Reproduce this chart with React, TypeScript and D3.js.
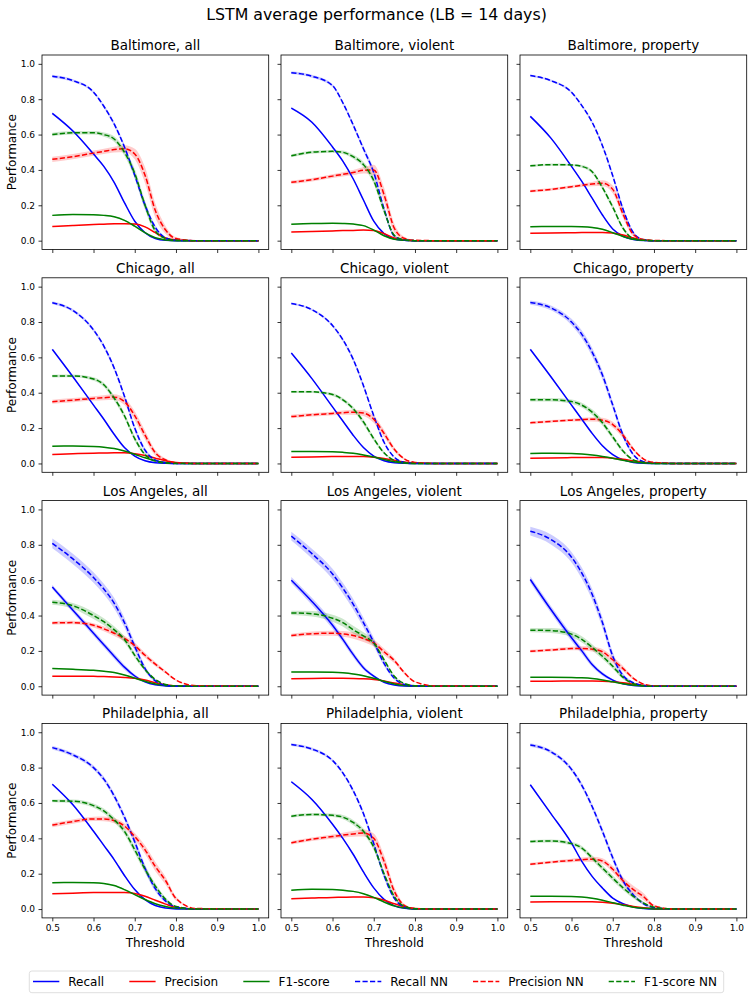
import { useEffect, useRef } from 'react';
import * as d3 from 'd3';

const WIDTH = 753;
const HEIGHT = 999;
const FONT = '"DejaVu Sans", sans-serif';

const THRESHOLDS = [0.5, 0.55, 0.6, 0.625, 0.65, 0.675, 0.7, 0.725, 0.75, 0.775, 0.8, 0.85, 1.0];
const CITIES = ['Baltimore', 'Chicago', 'Los Angeles', 'Philadelphia'];
const CRIMES = ['all', 'violent', 'property'];
const X_TICKS = [0.5, 0.6, 0.7, 0.8, 0.9, 1.0];
const Y_TICKS = [0, 0.2, 0.4, 0.6, 0.8, 1.0];

// One row per panel, reading order: Baltimore all/violent/property, Chicago ..., Los Angeles ..., Philadelphia ...
const recall = [
  [0.72, 0.62, 0.49, 0.42, 0.33, 0.215, 0.11, 0.045, 0.012, 0.002, 0, 0, 0],
  [0.75, 0.67, 0.53, 0.45, 0.35, 0.23, 0.11, 0.04, 0.009, 0.002, 0, 0, 0],
  [0.703, 0.58, 0.42, 0.335, 0.24, 0.145, 0.066, 0.025, 0.007, 0.001, 0, 0, 0],
  [0.645, 0.49, 0.33, 0.25, 0.165, 0.09, 0.042, 0.015, 0.004, 0.001, 0, 0, 0],
  [0.625, 0.48, 0.32, 0.24, 0.16, 0.09, 0.042, 0.015, 0.004, 0.001, 0, 0, 0],
  [0.645, 0.49, 0.33, 0.25, 0.17, 0.1, 0.05, 0.02, 0.006, 0.001, 0, 0, 0],
  [0.562, 0.43, 0.3, 0.235, 0.17, 0.108, 0.058, 0.025, 0.008, 0.002, 0, 0, 0],
  [0.6, 0.48, 0.345, 0.265, 0.18, 0.105, 0.057, 0.023, 0.007, 0.001, 0, 0, 0],
  [0.604, 0.434, 0.274, 0.2, 0.123, 0.07, 0.035, 0.014, 0.004, 0.001, 0, 0, 0],
  [0.706, 0.59, 0.44, 0.36, 0.28, 0.19, 0.11, 0.053, 0.02, 0.006, 0.001, 0, 0],
  [0.72, 0.62, 0.48, 0.4, 0.31, 0.21, 0.12, 0.055, 0.018, 0.004, 0, 0, 0],
  [0.703, 0.54, 0.373, 0.27, 0.185, 0.119, 0.062, 0.03, 0.011, 0.003, 0, 0, 0],
];
const recallSd = [
  [0.006, 0.006, 0.006, 0.006, 0.006, 0.006, 0.005, 0.004, 0.002, 0.001, 0, 0, 0],
  [0.006, 0.006, 0.006, 0.006, 0.006, 0.005, 0.004, 0.003, 0.001, 0, 0, 0, 0],
  [0.005, 0.005, 0.005, 0.005, 0.005, 0.004, 0.003, 0.002, 0.001, 0, 0, 0, 0],
  [0.005, 0.005, 0.005, 0.005, 0.005, 0.004, 0.003, 0.002, 0.001, 0, 0, 0, 0],
  [0.004, 0.004, 0.004, 0.004, 0.004, 0.003, 0.002, 0.002, 0.001, 0, 0, 0, 0],
  [0.006, 0.006, 0.006, 0.006, 0.006, 0.005, 0.004, 0.003, 0.001, 0, 0, 0, 0],
  [0.012, 0.014, 0.016, 0.016, 0.016, 0.014, 0.01, 0.006, 0.003, 0.001, 0, 0, 0],
  [0.018, 0.02, 0.02, 0.018, 0.016, 0.012, 0.008, 0.004, 0.002, 0, 0, 0, 0],
  [0.018, 0.02, 0.02, 0.018, 0.014, 0.01, 0.006, 0.003, 0.001, 0, 0, 0, 0],
  [0.006, 0.006, 0.006, 0.006, 0.006, 0.006, 0.005, 0.004, 0.002, 0.001, 0, 0, 0],
  [0.005, 0.005, 0.005, 0.005, 0.005, 0.005, 0.004, 0.003, 0.002, 0, 0, 0, 0],
  [0.005, 0.005, 0.005, 0.005, 0.005, 0.005, 0.004, 0.003, 0.002, 0, 0, 0, 0],
];

const precision = [
  [0.08, 0.086, 0.091, 0.093, 0.095, 0.096, 0.094, 0.078, 0.045, 0.015, 0.004, 0, 0],
  [0.049, 0.052, 0.055, 0.057, 0.058, 0.06, 0.058, 0.04, 0.015, 0.004, 0, 0, 0],
  [0.042, 0.043, 0.045, 0.046, 0.046, 0.046, 0.043, 0.032, 0.015, 0.004, 0, 0, 0],
  [0.051, 0.055, 0.058, 0.059, 0.06, 0.06, 0.055, 0.045, 0.03, 0.015, 0.005, 0, 0],
  [0.035, 0.037, 0.039, 0.04, 0.04, 0.039, 0.035, 0.028, 0.018, 0.008, 0.002, 0, 0],
  [0.03, 0.031, 0.033, 0.034, 0.034, 0.033, 0.03, 0.024, 0.015, 0.007, 0.002, 0, 0],
  [0.057, 0.057, 0.056, 0.055, 0.053, 0.05, 0.045, 0.035, 0.02, 0.008, 0.002, 0, 0],
  [0.043, 0.044, 0.045, 0.045, 0.044, 0.042, 0.038, 0.03, 0.018, 0.008, 0.002, 0, 0],
  [0.028, 0.029, 0.03, 0.03, 0.03, 0.029, 0.026, 0.02, 0.012, 0.005, 0.001, 0, 0],
  [0.087, 0.09, 0.093, 0.094, 0.094, 0.093, 0.088, 0.072, 0.05, 0.028, 0.01, 0.001, 0],
  [0.058, 0.062, 0.066, 0.067, 0.068, 0.068, 0.064, 0.05, 0.03, 0.012, 0.003, 0, 0],
  [0.04, 0.041, 0.042, 0.042, 0.041, 0.038, 0.033, 0.025, 0.015, 0.007, 0.002, 0, 0],
];
const precisionSd = [
  [0.002, 0.002, 0.002, 0.002, 0.002, 0.002, 0.003, 0.004, 0.004, 0.002, 0.001, 0, 0],
  [0.002, 0.002, 0.002, 0.002, 0.002, 0.002, 0.003, 0.003, 0.002, 0.001, 0, 0, 0],
  [0.002, 0.002, 0.002, 0.002, 0.002, 0.002, 0.002, 0.002, 0.001, 0, 0, 0, 0],
  [0.002, 0.002, 0.002, 0.002, 0.002, 0.002, 0.002, 0.002, 0.002, 0.001, 0, 0, 0],
  [0.002, 0.002, 0.002, 0.002, 0.002, 0.002, 0.002, 0.002, 0.001, 0, 0, 0, 0],
  [0.001, 0.001, 0.001, 0.001, 0.001, 0.001, 0.001, 0.001, 0.001, 0, 0, 0, 0],
  [0.002, 0.002, 0.002, 0.002, 0.002, 0.002, 0.002, 0.002, 0.002, 0.001, 0, 0, 0],
  [0.002, 0.002, 0.002, 0.002, 0.002, 0.002, 0.002, 0.002, 0.001, 0.001, 0, 0, 0],
  [0.001, 0.001, 0.001, 0.001, 0.001, 0.001, 0.001, 0.001, 0.001, 0, 0, 0, 0],
  [0.002, 0.002, 0.002, 0.002, 0.002, 0.002, 0.002, 0.002, 0.002, 0.001, 0, 0, 0],
  [0.002, 0.002, 0.002, 0.002, 0.002, 0.002, 0.002, 0.002, 0.002, 0.001, 0, 0, 0],
  [0.002, 0.002, 0.002, 0.002, 0.002, 0.002, 0.002, 0.002, 0.001, 0.001, 0, 0, 0],
];

const f1 = [
  [0.143, 0.148, 0.147, 0.143, 0.135, 0.115, 0.082, 0.045, 0.016, 0.004, 0, 0, 0],
  [0.093, 0.097, 0.098, 0.097, 0.094, 0.085, 0.06, 0.028, 0.008, 0.002, 0, 0, 0],
  [0.079, 0.08, 0.08, 0.079, 0.075, 0.064, 0.045, 0.024, 0.008, 0.002, 0, 0, 0],
  [0.098, 0.099, 0.096, 0.092, 0.084, 0.07, 0.052, 0.032, 0.016, 0.006, 0.001, 0, 0],
  [0.067, 0.068, 0.066, 0.063, 0.058, 0.048, 0.036, 0.022, 0.01, 0.003, 0, 0, 0],
  [0.057, 0.058, 0.056, 0.053, 0.048, 0.04, 0.03, 0.018, 0.008, 0.003, 0, 0, 0],
  [0.1, 0.096, 0.09, 0.085, 0.078, 0.064, 0.046, 0.028, 0.013, 0.004, 0.001, 0, 0],
  [0.081, 0.081, 0.079, 0.076, 0.07, 0.06, 0.045, 0.028, 0.013, 0.004, 0.001, 0, 0],
  [0.051, 0.051, 0.05, 0.048, 0.044, 0.036, 0.025, 0.014, 0.006, 0.002, 0, 0, 0],
  [0.149, 0.15, 0.149, 0.145, 0.133, 0.11, 0.082, 0.054, 0.03, 0.014, 0.004, 0, 0],
  [0.107, 0.112, 0.111, 0.107, 0.1, 0.087, 0.066, 0.04, 0.018, 0.006, 0.001, 0, 0],
  [0.072, 0.072, 0.071, 0.068, 0.061, 0.05, 0.036, 0.022, 0.01, 0.004, 0.001, 0, 0],
];
const f1Sd = [
  [0.003, 0.003, 0.003, 0.003, 0.003, 0.004, 0.005, 0.005, 0.003, 0.001, 0, 0, 0],
  [0.003, 0.003, 0.003, 0.003, 0.003, 0.004, 0.004, 0.003, 0.002, 0, 0, 0, 0],
  [0.003, 0.003, 0.003, 0.003, 0.003, 0.003, 0.003, 0.002, 0.001, 0, 0, 0, 0],
  [0.002, 0.002, 0.002, 0.002, 0.002, 0.002, 0.002, 0.002, 0.001, 0.001, 0, 0, 0],
  [0.002, 0.002, 0.002, 0.002, 0.002, 0.002, 0.002, 0.002, 0.001, 0, 0, 0, 0],
  [0.002, 0.002, 0.002, 0.002, 0.002, 0.002, 0.002, 0.001, 0.001, 0, 0, 0, 0],
  [0.003, 0.003, 0.003, 0.003, 0.003, 0.003, 0.003, 0.002, 0.001, 0, 0, 0, 0],
  [0.003, 0.003, 0.003, 0.003, 0.003, 0.003, 0.003, 0.002, 0.001, 0, 0, 0, 0],
  [0.002, 0.002, 0.002, 0.002, 0.002, 0.002, 0.002, 0.001, 0.001, 0, 0, 0, 0],
  [0.003, 0.003, 0.003, 0.003, 0.003, 0.003, 0.003, 0.003, 0.002, 0.001, 0, 0, 0],
  [0.003, 0.003, 0.003, 0.003, 0.003, 0.003, 0.003, 0.003, 0.002, 0.001, 0, 0, 0],
  [0.002, 0.002, 0.002, 0.002, 0.002, 0.002, 0.002, 0.002, 0.001, 0.001, 0, 0, 0],
];

const recallNN = [
  [0.93, 0.905, 0.84, 0.76, 0.66, 0.53, 0.37, 0.2, 0.075, 0.015, 0.002, 0, 0],
  [0.95, 0.93, 0.877, 0.78, 0.655, 0.52, 0.385, 0.18, 0.025, 0.003, 0, 0, 0],
  [0.934, 0.905, 0.839, 0.764, 0.67, 0.537, 0.367, 0.178, 0.045, 0.005, 0, 0, 0],
  [0.909, 0.865, 0.755, 0.664, 0.54, 0.38, 0.2, 0.075, 0.019, 0.004, 0, 0, 0],
  [0.905, 0.87, 0.78, 0.7, 0.59, 0.44, 0.27, 0.12, 0.035, 0.006, 0.001, 0, 0],
  [0.91, 0.88, 0.8, 0.73, 0.63, 0.5, 0.33, 0.16, 0.05, 0.01, 0.002, 0, 0],
  [0.808, 0.72, 0.615, 0.55, 0.47, 0.36, 0.225, 0.1, 0.03, 0.005, 0, 0, 0],
  [0.849, 0.75, 0.635, 0.555, 0.465, 0.36, 0.25, 0.13, 0.045, 0.01, 0.002, 0, 0],
  [0.877, 0.83, 0.73, 0.64, 0.52, 0.36, 0.17, 0.06, 0.02, 0.004, 0, 0, 0],
  [0.913, 0.872, 0.8, 0.735, 0.64, 0.52, 0.38, 0.23, 0.115, 0.045, 0.012, 0, 0],
  [0.93, 0.905, 0.84, 0.77, 0.67, 0.54, 0.37, 0.19, 0.06, 0.012, 0.002, 0, 0],
  [0.928, 0.89, 0.79, 0.7, 0.58, 0.44, 0.29, 0.16, 0.08, 0.03, 0.008, 0, 0],
];
const recallNNSd = [
  [0.008, 0.008, 0.008, 0.01, 0.012, 0.015, 0.02, 0.02, 0.012, 0.004, 0.001, 0, 0],
  [0.008, 0.008, 0.008, 0.01, 0.012, 0.015, 0.02, 0.018, 0.006, 0.001, 0, 0, 0],
  [0.006, 0.006, 0.007, 0.008, 0.01, 0.012, 0.015, 0.015, 0.008, 0.002, 0, 0, 0],
  [0.008, 0.008, 0.01, 0.012, 0.014, 0.016, 0.016, 0.012, 0.005, 0.001, 0, 0, 0],
  [0.006, 0.006, 0.008, 0.01, 0.012, 0.014, 0.014, 0.01, 0.004, 0.001, 0, 0, 0],
  [0.012, 0.014, 0.018, 0.022, 0.025, 0.025, 0.022, 0.016, 0.008, 0.002, 0, 0, 0],
  [0.028, 0.03, 0.03, 0.03, 0.03, 0.028, 0.024, 0.016, 0.006, 0.002, 0, 0, 0],
  [0.025, 0.028, 0.03, 0.03, 0.03, 0.028, 0.024, 0.016, 0.008, 0.002, 0, 0, 0],
  [0.025, 0.028, 0.03, 0.032, 0.032, 0.03, 0.024, 0.014, 0.006, 0.001, 0, 0, 0],
  [0.01, 0.01, 0.012, 0.014, 0.016, 0.018, 0.02, 0.02, 0.016, 0.01, 0.004, 0, 0],
  [0.008, 0.008, 0.008, 0.01, 0.012, 0.015, 0.018, 0.016, 0.008, 0.002, 0, 0, 0],
  [0.01, 0.01, 0.012, 0.014, 0.016, 0.018, 0.018, 0.016, 0.012, 0.008, 0.003, 0, 0],
];

const precisionNN = [
  [0.46, 0.475, 0.495, 0.505, 0.515, 0.52, 0.49, 0.37, 0.17, 0.06, 0.012, 0, 0],
  [0.33, 0.345, 0.365, 0.375, 0.385, 0.398, 0.4, 0.26, 0.07, 0.012, 0.002, 0, 0],
  [0.28, 0.29, 0.305, 0.313, 0.32, 0.325, 0.29, 0.15, 0.035, 0.006, 0.001, 0, 0],
  [0.349, 0.358, 0.368, 0.372, 0.375, 0.35, 0.27, 0.16, 0.06, 0.02, 0.005, 0, 0],
  [0.265, 0.275, 0.283, 0.287, 0.29, 0.285, 0.25, 0.17, 0.08, 0.025, 0.006, 0, 0],
  [0.23, 0.238, 0.245, 0.248, 0.25, 0.245, 0.22, 0.16, 0.08, 0.025, 0.006, 0, 0],
  [0.358, 0.36, 0.345, 0.325, 0.3, 0.27, 0.23, 0.175, 0.125, 0.08, 0.035, 0.003, 0],
  [0.287, 0.297, 0.3, 0.296, 0.287, 0.27, 0.245, 0.195, 0.145, 0.075, 0.025, 0.002, 0],
  [0.198, 0.205, 0.213, 0.214, 0.21, 0.195, 0.15, 0.1, 0.045, 0.012, 0.002, 0, 0],
  [0.475, 0.495, 0.51, 0.51, 0.5, 0.47, 0.41, 0.335, 0.24, 0.16, 0.06, 0.003, 0],
  [0.375, 0.395, 0.41, 0.418, 0.425, 0.43, 0.4, 0.27, 0.1, 0.02, 0.003, 0, 0],
  [0.254, 0.265, 0.275, 0.279, 0.282, 0.272, 0.225, 0.16, 0.11, 0.07, 0.018, 0, 0],
];
const precisionNNSd = [
  [0.015, 0.015, 0.015, 0.015, 0.016, 0.02, 0.03, 0.045, 0.04, 0.022, 0.008, 0, 0],
  [0.01, 0.01, 0.01, 0.012, 0.014, 0.018, 0.03, 0.04, 0.025, 0.008, 0.002, 0, 0],
  [0.008, 0.008, 0.008, 0.01, 0.012, 0.016, 0.022, 0.022, 0.012, 0.004, 0.001, 0, 0],
  [0.012, 0.012, 0.012, 0.014, 0.016, 0.02, 0.025, 0.025, 0.016, 0.008, 0.003, 0, 0],
  [0.01, 0.01, 0.01, 0.012, 0.014, 0.016, 0.02, 0.02, 0.012, 0.005, 0.002, 0, 0],
  [0.008, 0.008, 0.008, 0.01, 0.012, 0.014, 0.016, 0.016, 0.01, 0.004, 0.001, 0, 0],
  [0.01, 0.01, 0.012, 0.014, 0.016, 0.016, 0.016, 0.014, 0.012, 0.008, 0.004, 0, 0],
  [0.01, 0.012, 0.014, 0.016, 0.018, 0.02, 0.02, 0.018, 0.014, 0.008, 0.003, 0, 0],
  [0.008, 0.008, 0.01, 0.012, 0.014, 0.016, 0.018, 0.014, 0.008, 0.003, 0, 0, 0],
  [0.012, 0.012, 0.012, 0.014, 0.015, 0.016, 0.02, 0.024, 0.026, 0.022, 0.012, 0, 0],
  [0.01, 0.01, 0.012, 0.014, 0.016, 0.02, 0.028, 0.035, 0.025, 0.008, 0.002, 0, 0],
  [0.008, 0.008, 0.01, 0.012, 0.014, 0.016, 0.018, 0.02, 0.022, 0.02, 0.008, 0, 0],
];

const f1NN = [
  [0.6, 0.61, 0.61, 0.6, 0.575, 0.5, 0.38, 0.2, 0.055, 0.012, 0.002, 0, 0],
  [0.48, 0.5, 0.505, 0.5, 0.475, 0.43, 0.34, 0.17, 0.03, 0.004, 0, 0, 0],
  [0.423, 0.43, 0.428, 0.42, 0.39, 0.3, 0.19, 0.07, 0.012, 0.002, 0, 0, 0],
  [0.494, 0.495, 0.478, 0.445, 0.37, 0.27, 0.14, 0.05, 0.013, 0.003, 0, 0, 0],
  [0.405, 0.405, 0.39, 0.36, 0.31, 0.235, 0.14, 0.06, 0.017, 0.004, 0, 0, 0],
  [0.36, 0.36, 0.35, 0.33, 0.29, 0.23, 0.15, 0.07, 0.02, 0.005, 0, 0, 0],
  [0.475, 0.455, 0.4, 0.365, 0.32, 0.265, 0.175, 0.095, 0.038, 0.01, 0.002, 0, 0],
  [0.415, 0.41, 0.385, 0.36, 0.32, 0.285, 0.245, 0.15, 0.057, 0.015, 0.003, 0, 0],
  [0.317, 0.315, 0.295, 0.265, 0.22, 0.17, 0.113, 0.05, 0.015, 0.003, 0, 0, 0],
  [0.612, 0.61, 0.585, 0.555, 0.505, 0.44, 0.335, 0.225, 0.13, 0.055, 0.015, 0, 0],
  [0.525, 0.535, 0.53, 0.52, 0.49, 0.44, 0.35, 0.2, 0.07, 0.015, 0.002, 0, 0],
  [0.382, 0.385, 0.37, 0.345, 0.29, 0.232, 0.175, 0.12, 0.072, 0.034, 0.011, 0, 0],
];
const f1NNSd = [
  [0.01, 0.01, 0.01, 0.012, 0.015, 0.02, 0.025, 0.025, 0.015, 0.005, 0.001, 0, 0],
  [0.008, 0.008, 0.008, 0.01, 0.012, 0.016, 0.02, 0.018, 0.008, 0.002, 0, 0, 0],
  [0.006, 0.006, 0.006, 0.008, 0.01, 0.012, 0.014, 0.01, 0.005, 0.001, 0, 0, 0],
  [0.008, 0.008, 0.01, 0.012, 0.015, 0.016, 0.015, 0.01, 0.004, 0.001, 0, 0, 0],
  [0.006, 0.006, 0.008, 0.01, 0.012, 0.014, 0.012, 0.008, 0.003, 0.001, 0, 0, 0],
  [0.01, 0.01, 0.012, 0.014, 0.016, 0.016, 0.014, 0.01, 0.004, 0.001, 0, 0, 0],
  [0.014, 0.016, 0.02, 0.02, 0.02, 0.018, 0.015, 0.01, 0.005, 0.002, 0, 0, 0],
  [0.012, 0.016, 0.02, 0.022, 0.022, 0.02, 0.016, 0.01, 0.005, 0.001, 0, 0, 0],
  [0.012, 0.014, 0.016, 0.018, 0.018, 0.016, 0.014, 0.01, 0.005, 0.001, 0, 0, 0],
  [0.008, 0.01, 0.012, 0.014, 0.016, 0.018, 0.02, 0.02, 0.016, 0.01, 0.004, 0, 0],
  [0.008, 0.008, 0.01, 0.012, 0.014, 0.016, 0.018, 0.016, 0.008, 0.002, 0, 0, 0],
  [0.008, 0.008, 0.01, 0.012, 0.014, 0.016, 0.016, 0.014, 0.012, 0.008, 0.003, 0, 0],
];

const SERIES = [
  { label: 'Recall', mean: recall, sd: recallSd, color: '#0000FF', dashed: false },
  { label: 'Precision', mean: precision, sd: precisionSd, color: '#FF0000', dashed: false },
  { label: 'F1-score', mean: f1, sd: f1Sd, color: '#008000', dashed: false },
  { label: 'Recall NN', mean: recallNN, sd: recallNNSd, color: '#0000FF', dashed: true },
  { label: 'Precision NN', mean: precisionNN, sd: precisionNNSd, color: '#FF0000', dashed: true },
  { label: 'F1-score NN', mean: f1NN, sd: f1NNSd, color: '#008000', dashed: true },
];

// layout
const COL_LEFT = [42, 281, 520];
const ROW_TOP = [55, 277.8, 500.6, 723.4];
const PANEL_W = 226.7;
const PANEL_H = 194.5;
const DASH = '5.2,2.3';
const LINE_W = 1.5;
const LEGEND_X = [33, 129.3, 243.3, 355, 473, 608.7];

type Pt = { t: number; m: number; sd: number };

export default function App() {
  const svgRef = useRef<SVGSVGElement>(null);

  useEffect(() => {
    const svg = d3.select(svgRef.current);
    svg.selectAll('*').remove();

    svg.append('rect').attr('width', WIDTH).attr('height', HEIGHT).attr('fill', '#fff');

    svg.append('text')
      .attr('x', WIDTH / 2).attr('y', 19.5)
      .attr('text-anchor', 'middle')
      .attr('font-size', 15.8)
      .text('LSTM average performance (LB = 14 days)');

    CITIES.forEach((city, r) => {
      CRIMES.forEach((crime, c) => {
        const p = r * CRIMES.length + c;
        const left = COL_LEFT[c];
        const top = ROW_TOP[r];

        const x = d3.scaleLinear().domain([0.475, 1.025]).range([left, left + PANEL_W]);
        const y = d3.scaleLinear().domain([-0.05, 1.05]).range([top + PANEL_H, top]);

        const g = svg.append('g');

        // std bands
        for (const s of SERIES) {
          const pts: Pt[] = THRESHOLDS.map((t, i) => ({ t, m: s.mean[p][i], sd: s.sd[p][i] }));
          g.append('path')
            .datum(pts)
            .attr('d', d3.area<Pt>()
              .x((d) => x(d.t))
              .y0((d) => y(d.m - d.sd))
              .y1((d) => y(d.m + d.sd))
              .curve(d3.curveMonotoneX))
            .attr('fill', s.color)
            .attr('opacity', 0.2);
        }

        // mean lines
        for (const s of SERIES) {
          const pts: Pt[] = THRESHOLDS.map((t, i) => ({ t, m: s.mean[p][i], sd: s.sd[p][i] }));
          g.append('path')
            .datum(pts)
            .attr('d', d3.line<Pt>()
              .x((d) => x(d.t))
              .y((d) => y(d.m))
              .curve(d3.curveMonotoneX))
            .attr('fill', 'none')
            .attr('stroke', s.color)
            .attr('stroke-width', LINE_W)
            .attr('stroke-dasharray', s.dashed ? DASH : null);
        }

        // axes
        const yAxis = d3.axisLeft(y)
          .tickValues(Y_TICKS)
          .tickSize(3.5)
          .tickPadding(3.5)
          .tickFormat(c === 0 ? d3.format('.1f') : () => '');
        const ya = g.append('g').attr('transform', `translate(${left},0)`).call(yAxis);

        const xAxis = d3.axisBottom(x)
          .tickValues(X_TICKS)
          .tickSize(3.5)
          .tickPadding(3.5)
          .tickFormat(r === CITIES.length - 1 ? d3.format('.1f') : () => '');
        const xa = g.append('g').attr('transform', `translate(0,${top + PANEL_H})`).call(xAxis);

        for (const a of [ya, xa]) {
          a.select('.domain').remove();
          a.selectAll('line').attr('stroke', '#000').attr('stroke-width', 0.8);
          a.selectAll('text').attr('font-size', 9).attr('font-family', FONT).attr('fill', '#000');
        }

        g.append('rect')
          .attr('x', left).attr('y', top)
          .attr('width', PANEL_W).attr('height', PANEL_H)
          .attr('fill', 'none')
          .attr('stroke', '#000')
          .attr('stroke-width', 0.8);

        g.append('text')
          .attr('x', left + PANEL_W / 2).attr('y', top - 5)
          .attr('text-anchor', 'middle')
          .attr('font-size', 13.5)
          .text(`${city}, ${crime}`);

        if (c === 0) {
          g.append('text')
            .attr('transform', `translate(16,${top + PANEL_H / 2}) rotate(-90)`)
            .attr('text-anchor', 'middle')
            .attr('font-size', 12)
            .text('Performance');
        }
        if (r === CITIES.length - 1) {
          g.append('text')
            .attr('x', left + PANEL_W / 2).attr('y', 946.5)
            .attr('text-anchor', 'middle')
            .attr('font-size', 12)
            .text('Threshold');
        }
      });
    });

    // legend
    const lg = svg.append('g');
    lg.append('rect')
      .attr('x', 29.3).attr('y', 971)
      .attr('width', 694.4).attr('height', 21.7)
      .attr('rx', 2.5)
      .attr('fill', '#fff')
      .attr('stroke', '#d6d6d6')
      .attr('stroke-width', 0.8);
    SERIES.forEach((s, i) => {
      const lx = LEGEND_X[i];
      lg.append('line')
        .attr('x1', lx).attr('x2', lx + 26.3)
        .attr('y1', 981.5).attr('y2', 981.5)
        .attr('stroke', s.color)
        .attr('stroke-width', LINE_W)
        .attr('stroke-dasharray', s.dashed ? DASH : null);
      lg.append('text')
        .attr('x', lx + 35.3).attr('y', 985.8)
        .attr('font-size', 12)
        .text(s.label);
    });
  }, []);

  return (
    <svg
      ref={svgRef}
      width={WIDTH}
      height={HEIGHT}
      fontFamily={FONT}
      style={{ position: 'absolute', left: 0, top: 0, display: 'block' }}
    />
  );
}
